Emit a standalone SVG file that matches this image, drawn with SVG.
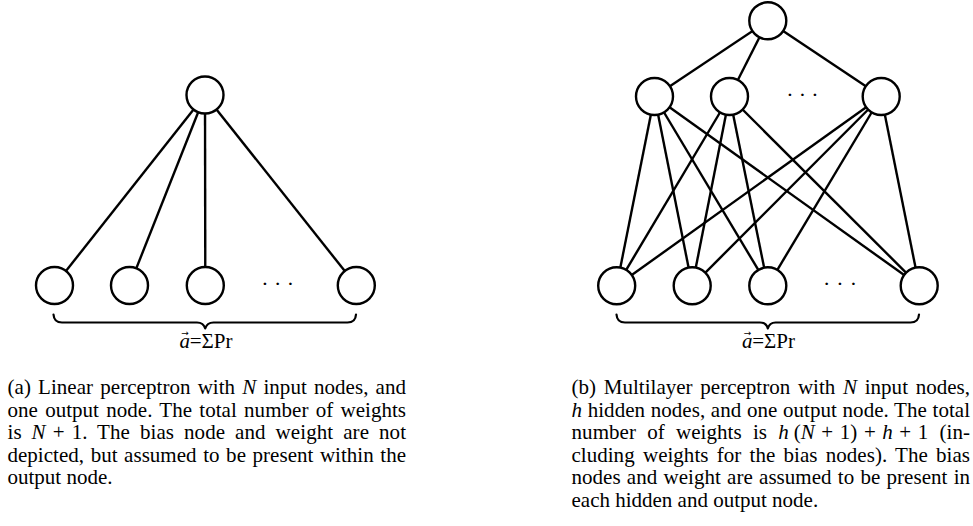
<svg xmlns="http://www.w3.org/2000/svg" width="973" height="526" viewBox="0 0 973 526">
  <style>
    .edge { stroke: #000; stroke-width: 2.4; fill: none; }
    .node { stroke: #000; stroke-width: 2.4; fill: #fff; }
    .brace { stroke: #000; stroke-width: 2.2; fill: none; stroke-linecap: round; stroke-linejoin: round; }
    .dots { font-family: "Liberation Serif", "Times New Roman", serif; font-size: 22px; fill: #000; text-anchor: middle; }
    .lbl { font-family: "Liberation Serif", "Times New Roman", serif; font-size: 21px; fill: #000; }
    .vec { font-family: "DejaVu Sans", sans-serif; font-size: 9px; }
    .cap { font-family: "Liberation Serif", "Times New Roman", serif; font-size: 21px; fill: #000; }
    .m { font-style: italic; }
  </style>

  <!-- (a) linear perceptron -->
  <g id="connectors-a">
    <line class="edge" x1="205" y1="95" x2="54.5" y2="285.5"/>
    <line class="edge" x1="205" y1="95" x2="129.5" y2="285.5"/>
    <line class="edge" x1="205" y1="95" x2="205.3" y2="285.5"/>
    <line class="edge" x1="205" y1="95" x2="356.3" y2="285.5"/>
  </g>
  <g id="a-output"><circle class="node" cx="205" cy="95" r="18.5"/></g>
  <g id="a-input1"><circle class="node" cx="54.5" cy="285.5" r="18.5"/></g>
  <g id="a-input2"><circle class="node" cx="129.5" cy="285.5" r="18.5"/></g>
  <g id="a-input3"><circle class="node" cx="205.3" cy="285.5" r="18.5"/></g>
  <g id="a-inputN"><circle class="node" cx="356.3" cy="285.5" r="18.5"/></g>
  <text class="dots" y="291"><tspan x="265">·</tspan><tspan x="277.7">·</tspan><tspan x="290.3">·</tspan></text>
  <path class="brace" d="M53.5,314.5 Q54,322.5 62,322.5 L197,322.5 Q203.5,322.5 205.2,328.5 Q207,322.5 213.5,322.5 L347.5,322.5 Q355.5,322.5 356,314.5"/>
  <!-- vector label: italic a with a small arrow accent above it -->
  <text class="lbl" x="206" y="348" text-anchor="middle"><tspan class="m">a</tspan><tspan class="vec" dx="-8.7" dy="-12">→</tspan><tspan dx="0.8" dy="12">=ΣPr</tspan></text>

  <!-- (b) multilayer perceptron -->
  <g id="connectors-b">
    <line class="edge" x1="767.8" y1="20.8" x2="654.5" y2="96.5"/>
    <line class="edge" x1="767.8" y1="20.8" x2="729.5" y2="96.5"/>
    <line class="edge" x1="767.8" y1="20.8" x2="881.2" y2="96.5"/>

    <line class="edge" x1="654.5" y1="96.5" x2="616.7" y2="285.8"/>
    <line class="edge" x1="654.5" y1="96.5" x2="692.2" y2="285.8"/>
    <line class="edge" x1="654.5" y1="96.5" x2="767.8" y2="285.8"/>
    <line class="edge" x1="654.5" y1="96.5" x2="919.2" y2="285.8"/>

    <line class="edge" x1="729.5" y1="96.5" x2="616.7" y2="285.8"/>
    <line class="edge" x1="729.5" y1="96.5" x2="692.2" y2="285.8"/>
    <line class="edge" x1="729.5" y1="96.5" x2="767.8" y2="285.8"/>
    <line class="edge" x1="729.5" y1="96.5" x2="919.2" y2="285.8"/>

    <line class="edge" x1="881.2" y1="96.5" x2="616.7" y2="285.8"/>
    <line class="edge" x1="881.2" y1="96.5" x2="692.2" y2="285.8"/>
    <line class="edge" x1="881.2" y1="96.5" x2="767.8" y2="285.8"/>
    <line class="edge" x1="881.2" y1="96.5" x2="919.2" y2="285.8"/>
  </g>
  <g id="b-output"><circle class="node" cx="767.8" cy="20.8" r="18.5"/></g>
  <g id="b-hidden1"><circle class="node" cx="654.5" cy="96.5" r="18.5"/></g>
  <g id="b-hidden2"><circle class="node" cx="729.5" cy="96.5" r="18.5"/></g>
  <g id="b-hiddenh"><circle class="node" cx="881.2" cy="96.5" r="18.5"/></g>
  <g id="b-input1"><circle class="node" cx="616.7" cy="285.8" r="18.5"/></g>
  <g id="b-input2"><circle class="node" cx="692.2" cy="285.8" r="18.5"/></g>
  <g id="b-input3"><circle class="node" cx="767.8" cy="285.8" r="18.5"/></g>
  <g id="b-inputN"><circle class="node" cx="919.2" cy="285.8" r="18.5"/></g>
  <text class="dots" y="102"><tspan x="790">·</tspan><tspan x="802.5">·</tspan><tspan x="815">·</tspan></text>
  <text class="dots" y="291"><tspan x="826.7">·</tspan><tspan x="840">·</tspan><tspan x="853.3">·</tspan></text>
  <path class="brace" d="M616.5,314.5 Q617,322.5 625,322.5 L760,322.5 Q766.2,322.5 767.8,328.5 Q769.5,322.5 775.6,322.5 L910.5,322.5 Q918.5,322.5 919,314.5"/>
  <text class="lbl" x="768.5" y="348" text-anchor="middle"><tspan class="m">a</tspan><tspan class="vec" dx="-8.7" dy="-12">→</tspan><tspan dx="0.8" dy="12">=ΣPr</tspan></text>

  <!-- captions (justified lines) -->
  <g id="caption-a" class="cap">
    <text x="7.5" y="394" word-spacing="1.8" textLength="398.5" lengthAdjust="spacing">(a) Linear perceptron with <tspan class="m">N</tspan> input nodes, and</text>
    <text x="7.5" y="416.5" word-spacing="2" textLength="398.5" lengthAdjust="spacing">one output node. The total number of weights</text>
    <text x="7.5" y="439" word-spacing="4.6" textLength="398.5" lengthAdjust="spacing">is <tspan class="m">N</tspan><tspan dx="7">+</tspan><tspan dx="7">1. The bias node and weight are not</tspan></text>
    <text x="7.5" y="461.5" word-spacing="1.3" textLength="398.5" lengthAdjust="spacing">depicted, but assumed to be present within the</text>
    <text x="7.5" y="484">output node.</text>
  </g>
  <g id="caption-b" class="cap">
    <text x="571.5" y="394" word-spacing="2.4" textLength="398.5" lengthAdjust="spacing">(b) Multilayer perceptron with <tspan class="m">N</tspan> input nodes,</text>
    <text x="571.5" y="416.5" word-spacing="0.4" textLength="398.5" lengthAdjust="spacing"><tspan class="m">h</tspan> hidden nodes, and one output node. The total</text>
    <text x="571.5" y="439" word-spacing="5.8" textLength="398.5" lengthAdjust="spacing">number of weights is <tspan class="m">h</tspan><tspan dx="5">(</tspan><tspan class="m">N</tspan><tspan dx="6.5">+</tspan><tspan dx="6.5">1)</tspan><tspan dx="6.5">+</tspan><tspan dx="6.5" class="m">h</tspan><tspan dx="6.5">+</tspan><tspan dx="6.5">1 (in-</tspan></text>
    <text x="571.5" y="461.5" word-spacing="3" textLength="398.5" lengthAdjust="spacing">cluding weights for the bias nodes). The bias</text>
    <text x="571.5" y="484" word-spacing="1" textLength="398.5" lengthAdjust="spacing">nodes and weight are assumed to be present in</text>
    <text x="571.5" y="506.5">each hidden and output node.</text>
  </g>
</svg>
